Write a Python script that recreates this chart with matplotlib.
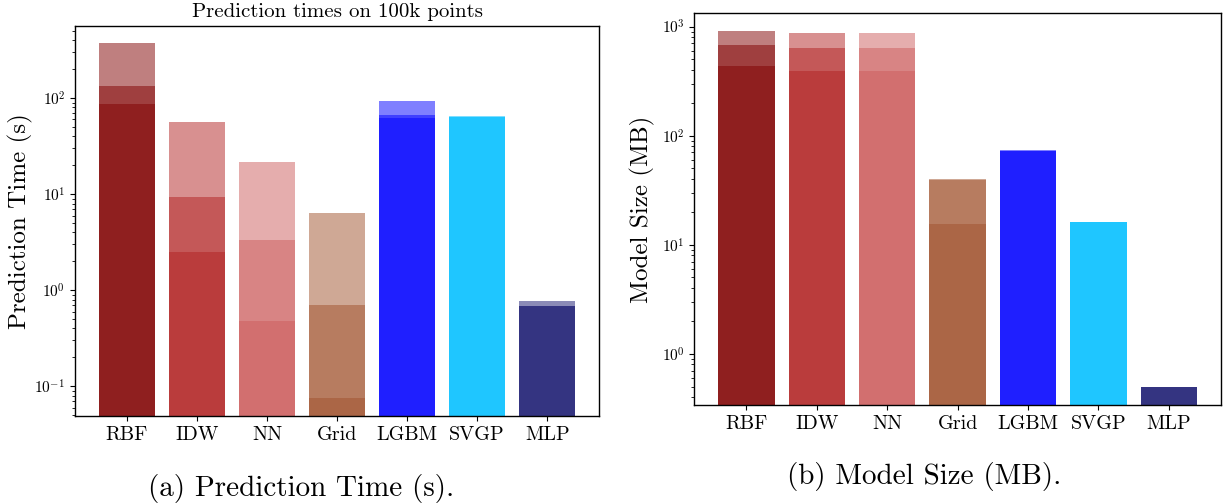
import numpy as np
import matplotlib
matplotlib.use("Agg")
import matplotlib.pyplot as plt

plt.rcParams["font.family"] = "serif"
plt.rcParams["font.serif"] = ["cmr10"]
plt.rcParams["mathtext.fontset"] = "cm"
plt.rcParams["axes.formatter.use_mathtext"] = True
plt.rcParams["axes.unicode_minus"] = False

methods = ["RBF", "IDW", "NN", "Grid", "LGBM", "SVGP", "MLP"]
colors = ["maroon", "firebrick", "indianred", "sienna", "blue", "deepskyblue", "midnightblue"]

# three runs per method, overlaid with alpha 0.5
time_a = [372, 55.9, 21.4, 6.3, 93, 64.5, 0.78]
time_b = [133, 9.3, 3.32, 0.70, 66.6, 64.3, 0.69]
time_c = [88, 2.49, 0.475, 0.075, 62.4, 64.0, 0.68]

size_a = [914, 875, 875, 40.0, 73.5, 16.1, 0.49]
size_b = [680, 638, 638, 39.0, 72.0, 16.1, 0.49]
size_c = [437, 393, 393, 15.5, 72.0, 16.1, 0.49]


def log_lims(runs):
    allv = np.concatenate([np.asarray(r, float) for r in runs])
    lo, hi = np.log10(allv.min()), np.log10(allv.max())
    pad = 0.05 * (hi - lo)
    return 10 ** (lo - pad), 10 ** (hi + pad)


def draw(ax, runs, ylabel):
    x = np.arange(len(methods))
    for vals in runs:
        ax.bar(x, vals, width=0.8, color=colors, alpha=0.5)
    ax.set_yscale("log")
    ax.set_xlim(-0.74, len(methods) - 0.26)
    ax.set_ylim(*log_lims(runs))
    ax.set_xticks(x)
    ax.set_xticklabels(methods, fontsize=14.5)
    ax.tick_params(axis="y", labelsize=11)
    ax.set_ylabel(ylabel, fontsize=18)
    for s in ax.spines.values():
        s.set_linewidth(1.0)


fig = plt.figure(figsize=(12.28, 5.03), dpi=100)

ax1 = fig.add_axes([0.0611, 0.173, 0.4267, 0.776])
draw(ax1, [time_a, time_b, time_c], "Prediction Time (s)")
ax1.set_title("Prediction times on 100k points", fontsize=15)
ax1.yaxis.set_label_coords(-0.08, 0.5)

ax2 = fig.add_axes([0.5654, 0.1942, 0.4289, 0.780])
draw(ax2, [size_a, size_b, size_c], "Model Size (MB)")
ax2.yaxis.set_label_coords(-0.0746, 0.5)

fig.text(0.2455, 0.0298, "(a) Prediction Time (s).", fontsize=21, ha="center", va="center")
fig.text(0.7524, 0.0517, "(b) Model Size (MB).", fontsize=21, ha="center", va="center")

fig.savefig("out.png", dpi=100)
